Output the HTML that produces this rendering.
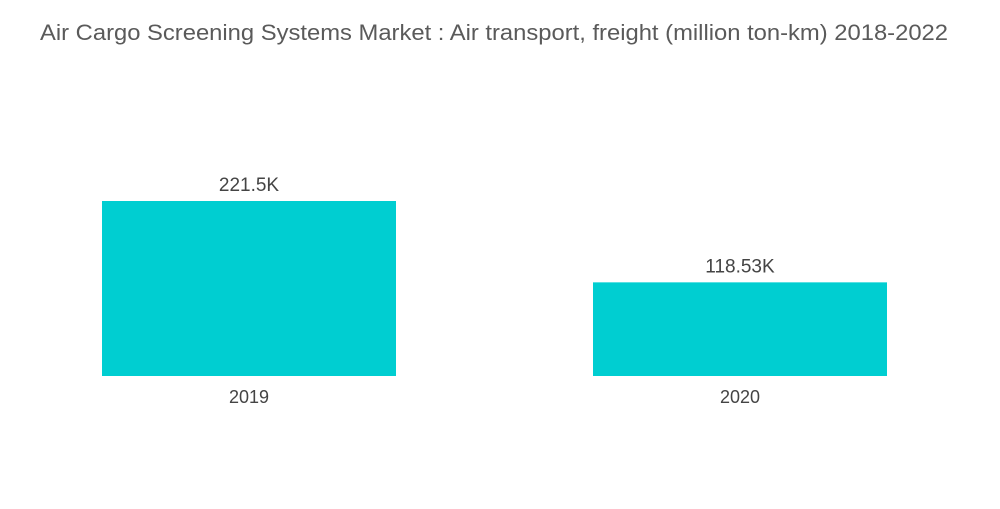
<!DOCTYPE html>
<html>
<head>
<meta charset="utf-8">
<style>
  html, body { margin: 0; padding: 0; background: #ffffff; }
  body { width: 1000px; height: 504px; overflow: hidden; font-family: "Liberation Sans", sans-serif; }
  svg text { font-family: "Liberation Sans", sans-serif; }
</style>
</head>
<body>
<svg id="chart" width="1000" height="504" viewBox="0 0 1000 504">
  <text x="40" y="40" font-size="22" fill="#5a5a5a" textLength="908" lengthAdjust="spacingAndGlyphs">Air Cargo Screening Systems Market : Air transport, freight (million ton-km) 2018-2022</text>
  <g id="bars"></g>
</svg>
<script>
const categories = ["2019", "2020"];
const values = [221.5, 118.53];
const valueLabels = ["221.5K", "118.53K"];

const baseY = 376;
const pxPerUnit = 175 / 221.5;
const barLeft = [102, 593];
const barWidth = 294;
function yScale(v) { return baseY - v * pxPerUnit; }
function xScale(i) { return barLeft[0] + i * (barLeft[1] - barLeft[0]); }

const ns = "http://www.w3.org/2000/svg";
const g = document.getElementById("bars");
categories.forEach((cat, i) => {
  const x = xScale(i);
  const y = yScale(values[i]);
  const r = document.createElementNS(ns, "rect");
  r.setAttribute("x", x);
  r.setAttribute("y", y);
  r.setAttribute("width", barWidth);
  r.setAttribute("height", baseY - y);
  r.setAttribute("fill", "#00ced1");
  
  
  g.appendChild(r);

  const t = document.createElementNS(ns, "text");
  t.setAttribute("x", x + barWidth / 2);
  t.setAttribute("y", y - 10);
  t.setAttribute("text-anchor", "middle");
  t.setAttribute("font-size", "19");
  t.setAttribute("fill", "#444");
  t.textContent = valueLabels[i];
  
  
  g.appendChild(t);

  const c = document.createElementNS(ns, "text");
  c.setAttribute("x", x + barWidth / 2);
  c.setAttribute("y", 403);
  c.setAttribute("text-anchor", "middle");
  c.setAttribute("font-size", "18");
  c.setAttribute("fill", "#444");
  c.textContent = cat;
  
  
  g.appendChild(c);
});
</script>
</body>
</html>
